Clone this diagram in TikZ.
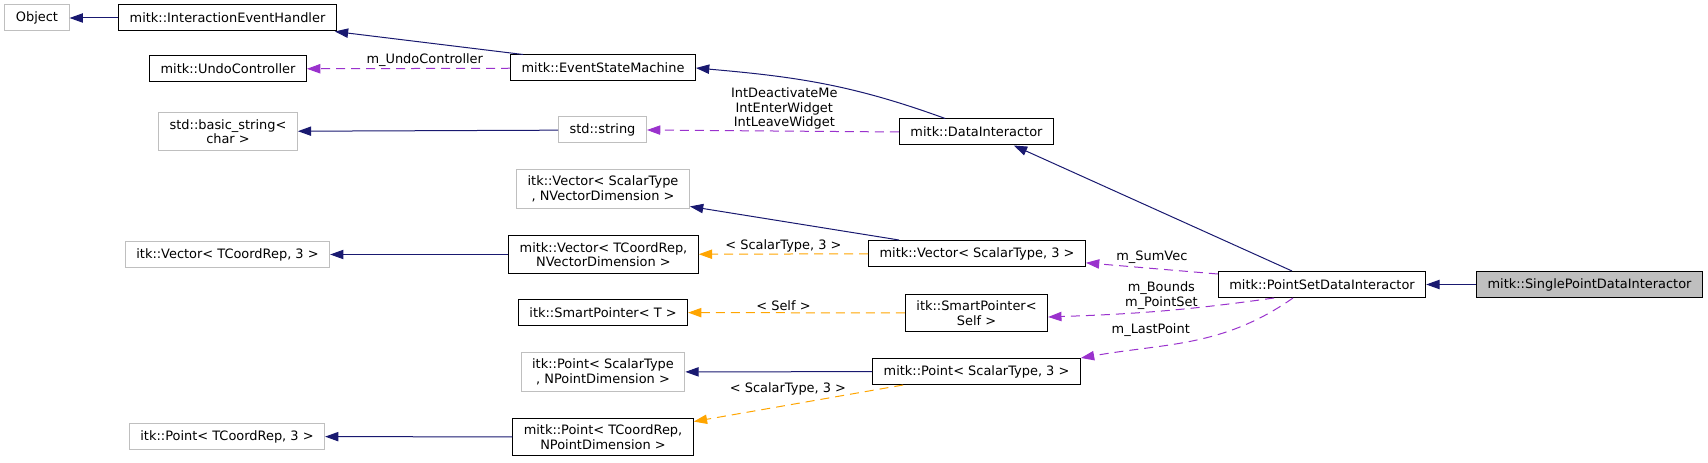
\documentclass[tikz,border=0pt]{standalone}
\usepackage{fontspec}
\setmainfont{DejaVu Sans}
\usetikzlibrary{arrows.meta}
\definecolor{navy}{HTML}{191970}
\definecolor{orchid}{HTML}{9A32CD}
\definecolor{tmplorange}{HTML}{FFA500}
\definecolor{boxgray}{HTML}{BFBFBF}

\begin{document}
\begin{tikzpicture}[x=0.75pt, y=-0.75pt, font=\fontsize{9.7}{10.9}\selectfont,
  cls/.style={draw=black, line width=0.75pt, align=center, inner xsep=8.25pt, inner ysep=5pt, minimum height=19.5pt},
  ext/.style={cls, draw=boxgray},
  main/.style={cls, fill=boxgray},
  lbl/.style={inner sep=1pt, align=center},
  inh/.style={draw=navy, line width=0.75pt, -{Triangle[length=10pt, width=7pt]}},
  use/.style={draw=orchid, line width=0.75pt, dash pattern=on 6.75pt off 4.5pt, -{Triangle[length=10pt, width=7pt]}},
  tmpl/.style={draw=tmplorange, line width=0.75pt, dash pattern=on 6.75pt off 4.5pt, -{Triangle[length=10pt, width=7pt]}}]
\useasboundingbox (0,0) rectangle (1708,463);
\node (obj)[ext] at (37, 18) {Object};
\node (ieh)[cls] at (227.5, 18) {mitk::InteractionEventHandler};
\node (undo)[cls] at (228, 69) {mitk::UndoController};
\node (esm)[cls] at (603, 68) {mitk::EventStateMachine};
\node (bstr)[ext] at (228, 131.5) {std::basic\_string<\\ char >};
\node (str)[ext] at (602.5, 130) {std::string};
\node (di)[cls] at (976.5, 132) {mitk::DataInteractor};
\node (itkvecst)[ext] at (603, 189) {itk::Vector< ScalarType\\ , NVectorDimension >};
\node (itkvec3)[ext] at (227.5, 254.5) {itk::Vector< TCoordRep, 3 >};
\node (mvectcr)[cls] at (603.5, 254.5) {mitk::Vector< TCoordRep,\\ NVectorDimension >};
\node (mvecst)[cls] at (977, 253.5) {mitk::Vector< ScalarType, 3 >};
\node (sptrT)[cls] at (603, 312.5) {itk::SmartPointer< T >};
\node (sptrself)[cls] at (976.5, 313) {itk::SmartPointer<\\ Self >};
\node (itkptst)[ext] at (603, 372) {itk::Point< ScalarType\\ , NPointDimension >};
\node (mptst)[cls] at (976.5, 371.5) {mitk::Point< ScalarType, 3 >};
\node (itkpt3)[ext] at (227, 436.5) {itk::Point< TCoordRep, 3 >};
\node (mpttcr)[cls] at (603, 437) {mitk::Point< TCoordRep,\\ NPointDimension >};
\node (psdi)[cls] at (1322, 284.5) {mitk::PointSetDataInteractor};
\node (spdi)[main] at (1589.5, 284.5) {mitk::SinglePointDataInteractor};
% inheritance
\draw[inh] (ieh) -- (obj);
\draw[inh] ([xshift=9.75pt]esm.north west) -- ([xshift=-1.5pt]ieh.south east);
\draw[inh] ([xshift=-23.5pt]di.north) to[out=160, in=-5] (esm.east);
\draw[inh] (str) -- (bstr);
\draw[inh] ([xshift=-22.5pt]psdi.north) -- ([xshift=28pt]di.south);
\draw[inh] ([xshift=-58.5pt]mvecst.north) -- ([yshift=2pt]itkvecst.south east);
\draw[inh] (mvectcr) -- (itkvec3);
\draw[inh] (mptst) -- (itkptst);
\draw[inh] (mpttcr) -- (itkpt3);
\draw[inh] (spdi) -- (psdi);
% members
\draw[use] (esm) -- (undo) node[lbl, pos=0.42, above] {m\_UndoController};
\draw[use] (di.west) -- (str.east) node[lbl, pos=0.455, above] {IntDeactivateMe\\IntEnterWidget\\IntLeaveWidget};
\draw[use] ([yshift=-2.25pt]psdi.north west) -- ([yshift=-7pt]mvecst.east) node[lbl, pos=0.5, above=2pt] {m\_SumVec};
\draw[use] ([xshift=-36pt]psdi.south) to[out=-172, in=2] node[lbl, pos=0.5, above] {m\_Bounds\\m\_PointSet} ([yshift=-3pt]sptrself.east);
\draw[use] ([xshift=-21.75pt]psdi.south) to[out=-145, in=10] node[lbl, pos=0.7, above=7pt] {m\_LastPoint} (mptst.north east);
% templates
\draw[tmpl] (mvecst) -- (mvectcr) node[lbl, pos=0.5, above] {< ScalarType, 3 >};
\draw[tmpl] (sptrself) -- (sptrT) node[lbl, pos=0.56, above] {< Self >};
\draw[tmpl] ([xshift=-55pt]mptst.south) -- ([yshift=-3pt]mpttcr.north east) node[lbl, pos=0.55, above=6pt] {< ScalarType, 3 >};
\end{tikzpicture}
\end{document}
